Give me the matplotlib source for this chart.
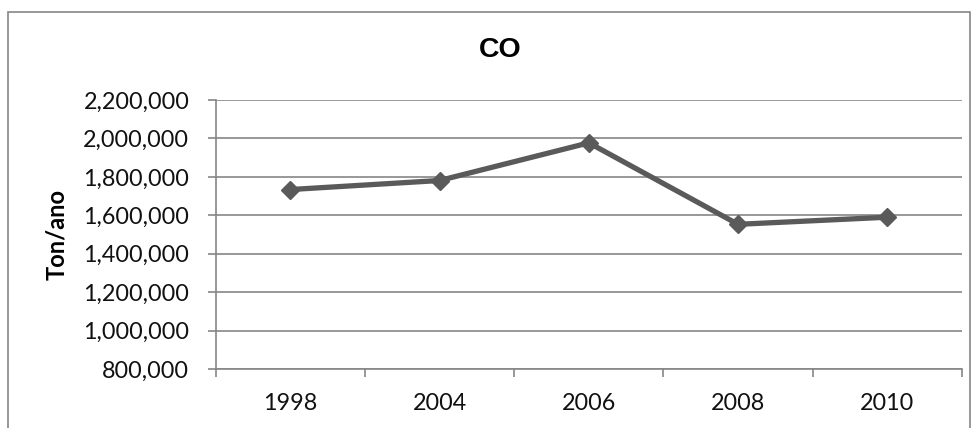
import matplotlib
matplotlib.use("Agg")
import matplotlib.pyplot as plt
from matplotlib.patches import Rectangle
from matplotlib.ticker import FuncFormatter, FixedLocator

years = ["1998", "2004", "2006", "2008", "2010"]
values = [1734000, 1781000, 1977000, 1553000, 1590000]
y_ticks = [800000, 1000000, 1200000, 1400000, 1600000, 1800000, 2000000, 2200000]
title = "CO"
ylabel = "Ton/ano"

grid_col = "#868686"
line_col = "#5a5a5a"

fig = plt.figure(figsize=(9.79, 4.28), dpi=100)
fig.patch.set_facecolor("white")
fig.patches.append(Rectangle((8/979, -0.1), (970-8)/979, 1.1 - 12/428,
                             transform=fig.transFigure, fill=False,
                             edgecolor=grid_col, linewidth=1.2))

ax = fig.add_axes([215.7/979, 1-369/428, (962-215.7)/979, (369-100)/428])
x = list(range(len(years)))
ax.plot(x, values, color=line_col, linewidth=3.8, marker="D", markersize=9.5,
        markerfacecolor=line_col, markeredgecolor=line_col, zorder=3,
        solid_joinstyle="round")

ax.set_xlim(-0.5, len(years) - 0.5)
ax.set_ylim(y_ticks[0], y_ticks[-1])
ax.set_yticks(y_ticks)
ax.yaxis.set_major_formatter(FuncFormatter(lambda v, p: f"{int(v):,}"))
ax.grid(axis="y", color=grid_col, linewidth=1.2, zorder=0)
ax.set_axisbelow(True)

ax.xaxis.set_major_locator(FixedLocator([i - 0.5 for i in range(len(years) + 1)]))
ax.xaxis.set_minor_locator(FixedLocator(x))
ax.set_xticklabels([], minor=False)
ax.set_xticklabels(years, minor=True)
ax.tick_params(axis="x", which="major", length=6, width=1.2, color=grid_col, direction="out")
ax.tick_params(axis="x", which="minor", length=0, pad=17)
ax.tick_params(axis="y", length=6, width=1.2, color=grid_col, direction="out", pad=13)

for lab in ax.get_xticklabels(minor=True) + ax.get_yticklabels():
    lab.set_fontfamily("Lato")
    lab.set_fontsize(16.8)
    lab.set_color("#111111")

for s in ["top", "right"]:
    ax.spines[s].set_visible(False)
for s in ["left", "bottom"]:
    ax.spines[s].set_color(grid_col)
    ax.spines[s].set_linewidth(1.2)

fig.text(500/979, 1-50/428, title, ha="center", va="center",
         fontfamily="Liberation Sans", fontweight="bold", fontsize=20.5)
fig.text(57/979, 1-235/428, ylabel, ha="center", va="center", rotation=90,
         fontfamily="Lato", fontweight="bold", fontsize=17)

fig.savefig("out.png", dpi=100, facecolor="white")
